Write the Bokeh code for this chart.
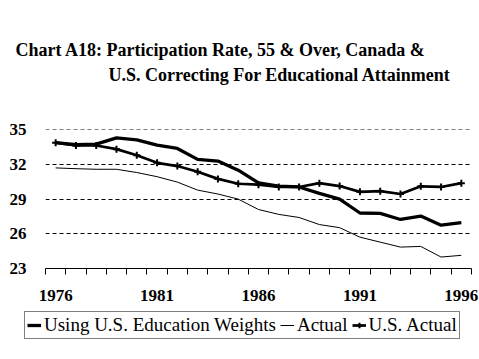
from bokeh.plotting import figure
from bokeh.models import FixedTicker, Legend, LegendItem, Label, Range1d
from bokeh.layouts import column, row
from bokeh.embed import file_html
from bokeh.resources import INLINE

years = list(range(1976, 1997))
canada_actual = [31.7, 31.63, 31.58, 31.58, 31.3, 30.94, 30.47, 29.78, 29.44, 29.0,
                 28.1, 27.68, 27.41, 26.8, 26.53, 25.71, 25.28, 24.85, 24.91, 23.99, 24.14]
us_weights = [33.88, 33.7, 33.76, 34.29, 34.12, 33.67, 33.38, 32.44, 32.29, 31.5,
              30.4, 30.13, 30.05, 29.5, 29.0, 27.8, 27.76, 27.24, 27.53, 26.75, 26.96]
us_actual = [33.88, 33.64, 33.64, 33.32, 32.79, 32.14, 31.86, 31.36, 30.75, 30.33,
             30.25, 30.05, 30.05, 30.38, 30.13, 29.63, 29.69, 29.44, 30.11, 30.05, 30.38]
y_ticks = [23, 26, 29, 32, 35]
x_label_years = [1976, 1981, 1986, 1991, 1996]
title_line1 = "Chart A18: Participation Rate, 55 & Over, Canada &"
title_line2 = "U.S. Correcting For Educational Attainment"
legend_labels = ["Using U.S. Education Weights", "Actual", "U.S. Actual"]

SERIF = "Liberation Serif"
W = 479


def blank(height):
    f = figure(width=W, height=height, output_backend="svg", toolbar_location=None,
               x_range=Range1d(0, 1), y_range=Range1d(0, 1),
               min_border_left=0, min_border_right=0, min_border_top=0, min_border_bottom=0,
               x_axis_location=None, y_axis_location=None)
    f.outline_line_color = None
    f.grid.grid_line_color = None
    return f


# ---------- header (two title lines) ----------
head = blank(100)
for txt, xs, ys in ((title_line1, 15, 51), (title_line2, 108, 26)):
    head.add_layout(Label(x=xs, y=ys, x_units="screen", y_units="screen", text=txt,
                          text_font=SERIF, text_font_style="bold", text_font_size="18px",
                          text_color="black", text_baseline="alphabetic"))

# ---------- main chart ----------
p = figure(width=W, height=208, output_backend="svg", toolbar_location=None,
           x_range=Range1d(years[0] - 0.5, years[-1] + 0.5),
           y_range=Range1d(y_ticks[0], y_ticks[-1] + 0.02),
           min_border_left=45, min_border_right=8, min_border_top=29, min_border_bottom=40)
p.outline_line_color = None

p.xgrid.grid_line_color = None
p.ygrid.ticker = FixedTicker(ticks=y_ticks)
p.ygrid.grid_line_color = "black"
p.ygrid.grid_line_dash = "4 3"
p.ygrid.grid_line_width = 1

p.yaxis.ticker = FixedTicker(ticks=y_ticks)
p.yaxis.axis_line_color = None
p.yaxis.major_tick_line_color = None
p.yaxis.minor_tick_line_color = None
p.yaxis.major_label_text_font = SERIF
p.yaxis.major_label_text_font_style = "bold"
p.yaxis.major_label_text_font_size = "17px"
p.yaxis.major_label_text_color = "black"
p.yaxis.major_label_standoff = 13

p.xaxis.ticker = FixedTicker(ticks=x_label_years,
                             minor_ticks=[y - 0.5 for y in years] + [years[-1] + 0.5])
p.xaxis.axis_line_color = "black"
p.xaxis.axis_line_width = 1
p.xaxis.major_tick_line_color = None
p.xaxis.major_tick_in = 0
p.xaxis.major_tick_out = 6
p.xaxis.minor_tick_line_color = "black"
p.xaxis.minor_tick_line_width = 1
p.xaxis.minor_tick_in = 0
p.xaxis.minor_tick_out = 6
p.xaxis.major_label_text_font = SERIF
p.xaxis.major_label_text_font_style = "bold"
p.xaxis.major_label_text_font_size = "17px"
p.xaxis.major_label_text_color = "black"
p.xaxis.major_label_standoff = 15

p.line(years, canada_actual, line_color="black", line_width=1)
p.line(years, us_weights, line_color="black", line_width=3.3, line_join="round")
p.line(years, us_actual, line_color="black", line_width=2.7, line_join="round")
p.scatter(years, us_actual, marker="cross", size=7, line_color="black", line_width=2)

# ---------- footer (legend) ----------
# Same series drawn again in the footer; its ranges keep them out of view,
# so only their legend samples show.
foot = blank(50)
k_thick = foot.line(years, us_weights, line_color="black", line_width=3.3)
k_thin = foot.line(years, canada_actual, line_color="black", line_width=1)
k_us = foot.line(years, us_actual, line_color="black", line_width=2.7)
k_us_m = foot.scatter(years, us_actual, marker="cross", size=7, line_color="black", line_width=2)

legend = Legend(items=[
    LegendItem(label=legend_labels[0], renderers=[k_thick]),
    LegendItem(label=legend_labels[1], renderers=[k_thin]),
    LegendItem(label=legend_labels[2], renderers=[k_us, k_us_m]),
], orientation="horizontal", location=(24, 19))
legend.label_text_font = SERIF
legend.label_text_font_size = "19px"
legend.label_text_color = "black"
legend.label_height = 18
legend.glyph_width = 14
legend.glyph_height = 14
legend.label_standoff = 3
legend.spacing = 4
legend.padding = 2
legend.margin = 0
legend.border_line_color = "black"
legend.border_line_width = 1
legend.background_fill_alpha = 1
foot.add_layout(legend)

layout = column(row(head), p, row(foot), spacing=0)
open("out.html", "w").write(file_html(layout, INLINE))
